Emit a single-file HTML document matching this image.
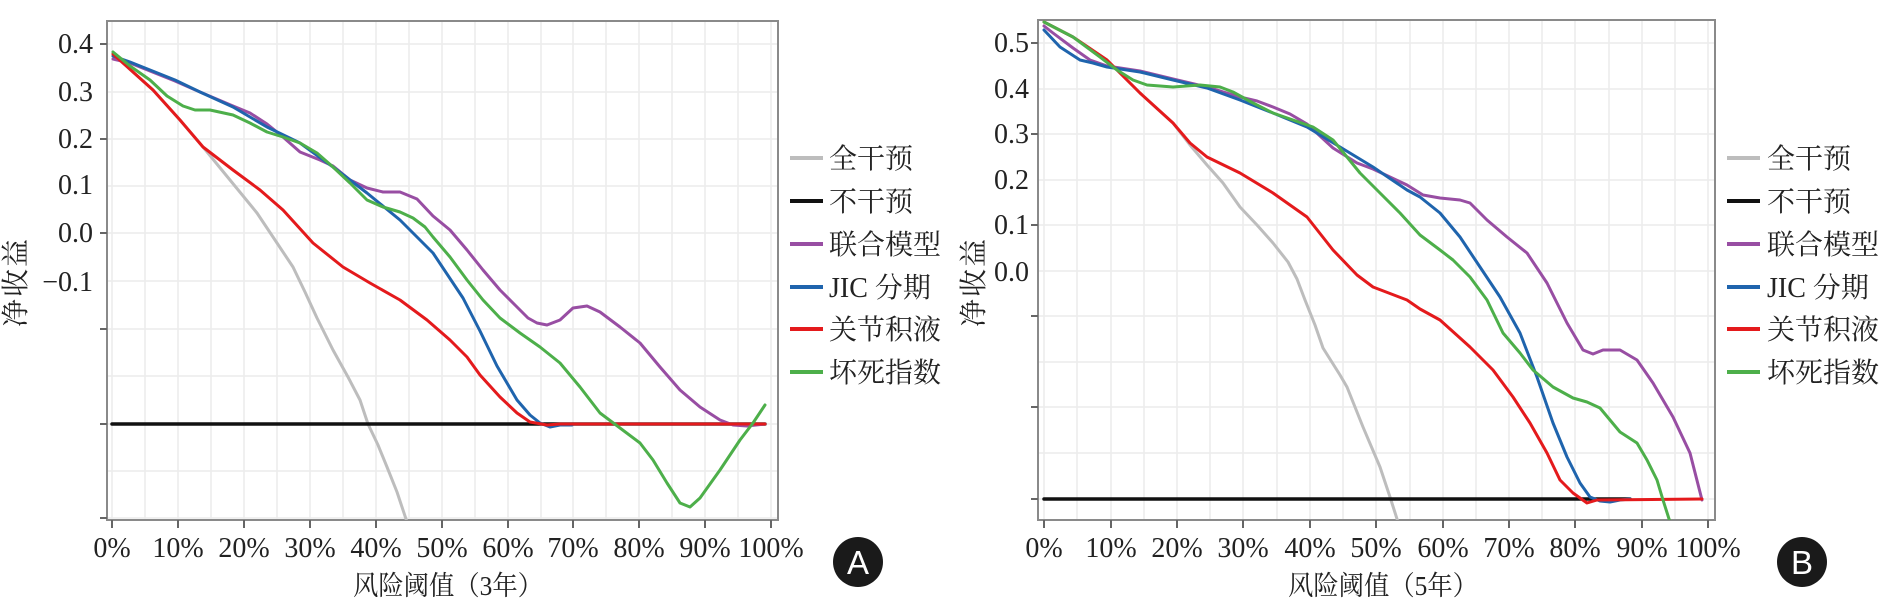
<!DOCTYPE html>
<html><head><meta charset="utf-8">
<style>
html,body{margin:0;padding:0;background:#fff;}
svg{display:block;}
text{font-family:"Liberation Serif","Noto Serif CJK SC","Noto Sans CJK SC",serif;fill:#222;}
</style></head>
<body>
<svg width="1887" height="602" viewBox="0 0 1887 602" xmlns="http://www.w3.org/2000/svg">
<defs>
<clipPath id="ca"><rect x="107" y="21" width="671" height="499"/></clipPath>
<clipPath id="cb"><rect x="1038" y="20" width="677" height="500"/></clipPath>
</defs>

<!-- ================= PANEL A ================= -->
<g stroke="#ececec" stroke-width="1.5" fill="none">
<path d="M107 44H778M107 92H778M107 139H778M107 186H778M107 233H778M107 281H778M107 329H778M107 376H778M107 424H778M107 471H778M107 518H778"/>
<path d="M112 21V520M145 21V520M178 21V520M211 21V520M244 21V520M277 21V520M310 21V520M343 21V520M376 21V520M409 21V520M442 21V520M475 21V520M508 21V520M541 21V520M573 21V520M606 21V520M639 21V520M672 21V520M705 21V520M738 21V520M771 21V520"/>
</g>
<rect x="107" y="21" width="671" height="499" fill="none" stroke="#8a8a8a" stroke-width="2"/>
<g stroke="#666" stroke-width="2">
<path d="M100 44H107M100 139H107M100 233H107M100 329H107M100 424H107M100 518H107"/>
<path d="M112 520V528M178 520V528M244 520V528M310 520V528M376 520V528M442 520V528M508 520V528M573 520V528M639 520V528M705 520V528M771 520V528"/>
</g>
<g font-size="28" text-anchor="end">
<text x="93" y="53">0.4</text>
<text x="93" y="101">0.3</text>
<text x="93" y="148">0.2</text>
<text x="93" y="194">0.1</text>
<text x="93" y="242">0.0</text>
<text x="93" y="291">−0.1</text>
</g>
<g font-size="28" text-anchor="middle">
<text x="112" y="557">0%</text>
<text x="178" y="557">10%</text>
<text x="244" y="557">20%</text>
<text x="310" y="557">30%</text>
<text x="376" y="557">40%</text>
<text x="442" y="557">50%</text>
<text x="508" y="557">60%</text>
<text x="573" y="557">70%</text>
<text x="639" y="557">80%</text>
<text x="705" y="557">90%</text>
<text x="771" y="557">100%</text>
</g>
<text x="353" y="595" font-size="27" textLength="190" lengthAdjust="spacingAndGlyphs">风险阈值（3年）</text>
<text transform="translate(25,282) rotate(-90)" font-size="28" text-anchor="middle" letter-spacing="2">净收益</text>

<g clip-path="url(#ca)" fill="none" stroke-width="3" stroke-linejoin="round" stroke-linecap="round">
<polyline stroke="#bdbdbd" points="113,54 133,72 153,90 180,120 203,147 230,180 257,213 275,240 293,267 305,292 317,318 333,350 348,377 360,400 368,424 378,445 387,467 397,492 407,522"/>
<polyline stroke="#111" stroke-width="3.5" points="112,424 765,424"/>
<polyline stroke="#984ea3" points="113,59 130,63 150,71 175,81 200,92 233,106 250,113 267,124 283,137 300,152 320,160 333,166 350,180 367,188 383,192 400,192 417,199 433,216 450,230 467,250 483,270 500,290 515,305 528,318 537,323 547,325 560,320 573,308 587,306 600,312 620,327 640,343 660,367 680,390 700,407 720,420 733,425 747,426 765,424"/>
<polyline stroke="#1f64ad" points="113,56 130,62 150,70 175,80 200,92 233,107 267,127 300,143 333,167 367,193 400,220 433,253 463,298 480,331 497,366 517,400 530,415 540,423 550,427 560,425 572,425"/>
<polyline stroke="#e41a1c" points="113,54 133,72 153,90 180,120 203,147 233,170 260,190 283,210 313,243 343,267 370,283 400,300 427,320 450,340 467,357 480,375 500,397 517,413 530,422 547,425 560,424 765,424"/>
<polyline stroke="#4daf4a" points="113,52 130,66 150,80 167,96 183,106 195,110 210,110 233,115 250,123 267,132 283,137 300,143 317,153 333,167 350,183 367,200 383,207 400,212 413,218 425,227 433,237 450,257 467,280 483,300 500,318 520,333 540,347 560,363 580,387 600,413 620,428 640,443 653,460 667,483 680,503 690,507 700,498 720,470 740,440 753,423 765,405"/>
</g>

<!-- Legend A -->
<g stroke-width="4">
<line x1="790" y1="158" x2="823" y2="158" stroke="#bdbdbd"/>
<line x1="790" y1="201" x2="823" y2="201" stroke="#111"/>
<line x1="790" y1="244" x2="823" y2="244" stroke="#984ea3"/>
<line x1="790" y1="287" x2="823" y2="287" stroke="#1f64ad"/>
<line x1="790" y1="329" x2="823" y2="329" stroke="#e41a1c"/>
<line x1="790" y1="372" x2="823" y2="372" stroke="#4daf4a"/>
</g>
<g font-size="28">
<text x="829" y="168">全干预</text>
<text x="829" y="211">不干预</text>
<text x="829" y="254">联合模型</text>
<text x="829" y="297">JIC 分期</text>
<text x="829" y="339">关节积液</text>
<text x="829" y="382">坏死指数</text>
</g>

<circle cx="858" cy="562" r="25" fill="#1a1a1a"/>
<text x="858" y="574" font-size="33" text-anchor="middle" style="font-family:'Liberation Sans',sans-serif;fill:#fff">A</text>

<!-- ================= PANEL B ================= -->
<g stroke="#ececec" stroke-width="1.5" fill="none">
<path d="M1038 43H1715M1038 89H1715M1038 134H1715M1038 180H1715M1038 225H1715M1038 271H1715M1038 316H1715M1038 362H1715M1038 407H1715M1038 453H1715M1038 499H1715"/>
<path d="M1044 20V520M1077 20V520M1111 20V520M1144 20V520M1177 20V520M1210 20V520M1243 20V520M1277 20V520M1310 20V520M1343 20V520M1376 20V520M1410 20V520M1443 20V520M1476 20V520M1509 20V520M1542 20V520M1575 20V520M1609 20V520M1642 20V520M1675 20V520M1708 20V520"/>
</g>
<rect x="1038" y="20" width="677" height="500" fill="none" stroke="#8a8a8a" stroke-width="2"/>
<g stroke="#666" stroke-width="2">
<path d="M1031 43H1038M1031 134H1038M1031 225H1038M1031 316H1038M1031 407H1038M1031 499H1038"/>
<path d="M1044 520V528M1111 520V528M1177 520V528M1243 520V528M1310 520V528M1376 520V528M1443 520V528M1509 520V528M1575 520V528M1642 520V528M1708 520V528"/>
</g>
<g font-size="28" text-anchor="end">
<text x="1029" y="52">0.5</text>
<text x="1029" y="98">0.4</text>
<text x="1029" y="143">0.3</text>
<text x="1029" y="189">0.2</text>
<text x="1029" y="234">0.1</text>
<text x="1029" y="281">0.0</text>
</g>
<g font-size="28" text-anchor="middle">
<text x="1044" y="557">0%</text>
<text x="1111" y="557">10%</text>
<text x="1177" y="557">20%</text>
<text x="1243" y="557">30%</text>
<text x="1310" y="557">40%</text>
<text x="1376" y="557">50%</text>
<text x="1443" y="557">60%</text>
<text x="1509" y="557">70%</text>
<text x="1575" y="557">80%</text>
<text x="1642" y="557">90%</text>
<text x="1708" y="557">100%</text>
</g>
<text x="1288" y="595" font-size="27" textLength="190" lengthAdjust="spacingAndGlyphs">风险阈值（5年）</text>
<text transform="translate(983,282) rotate(-90)" font-size="28" text-anchor="middle" letter-spacing="2">净收益</text>

<g clip-path="url(#cb)" fill="none" stroke-width="3" stroke-linejoin="round" stroke-linecap="round">
<polyline stroke="#bdbdbd" points="1044,22 1073,37 1107,60 1140,93 1173,123 1190,145 1207,165 1223,183 1240,207 1257,225 1273,243 1288,262 1297,279 1305,300 1315,325 1323,348 1340,375 1347,387 1363,427 1380,467 1390,497 1398,522"/>
<polyline stroke="#111" stroke-width="3.5" points="1044,499 1630,499"/>
<polyline stroke="#984ea3" points="1044,26 1053,33 1073,48 1090,60 1107,66 1140,71 1173,79 1207,87 1240,97 1257,101 1273,107 1290,114 1307,124 1333,148 1357,163 1373,169 1407,185 1423,195 1440,198 1460,200 1470,203 1487,220 1507,237 1527,253 1547,283 1567,323 1583,350 1593,354 1603,350 1620,350 1637,360 1653,383 1673,417 1690,453 1702,500"/>
<polyline stroke="#1f64ad" points="1044,30 1060,47 1080,60 1093,63 1107,67 1140,72 1173,80 1207,88 1240,100 1273,113 1307,127 1340,147 1373,167 1407,190 1420,197 1440,213 1460,237 1480,267 1500,297 1520,333 1537,377 1553,423 1567,457 1580,483 1590,497 1600,501 1610,502 1620,500 1630,499"/>
<polyline stroke="#e41a1c" points="1044,22 1073,37 1107,60 1140,93 1173,123 1190,143 1207,157 1240,173 1273,193 1307,217 1333,250 1357,275 1373,287 1407,300 1420,309 1440,320 1470,347 1493,370 1513,397 1530,423 1547,453 1560,480 1573,493 1587,503 1597,500 1702,499"/>
<polyline stroke="#4daf4a" points="1044,22 1073,37 1100,57 1117,70 1133,80 1147,85 1173,87 1200,85 1220,87 1233,92 1253,103 1273,113 1293,120 1313,127 1333,140 1347,157 1360,173 1380,193 1400,213 1420,235 1440,250 1453,260 1470,277 1487,300 1503,333 1520,353 1533,370 1553,387 1573,398 1587,402 1600,408 1610,420 1620,432 1637,443 1647,460 1657,480 1663,500 1670,522"/>
</g>

<!-- Legend B -->
<g stroke-width="4">
<line x1="1727" y1="158" x2="1760" y2="158" stroke="#bdbdbd"/>
<line x1="1727" y1="201" x2="1760" y2="201" stroke="#111"/>
<line x1="1727" y1="244" x2="1760" y2="244" stroke="#984ea3"/>
<line x1="1727" y1="287" x2="1760" y2="287" stroke="#1f64ad"/>
<line x1="1727" y1="329" x2="1760" y2="329" stroke="#e41a1c"/>
<line x1="1727" y1="372" x2="1760" y2="372" stroke="#4daf4a"/>
</g>
<g font-size="28">
<text x="1767" y="168">全干预</text>
<text x="1767" y="211">不干预</text>
<text x="1767" y="254">联合模型</text>
<text x="1767" y="297">JIC 分期</text>
<text x="1767" y="339">关节积液</text>
<text x="1767" y="382">坏死指数</text>
</g>

<circle cx="1802" cy="562" r="25" fill="#1a1a1a"/>
<text x="1802" y="574" font-size="33" text-anchor="middle" style="font-family:'Liberation Sans',sans-serif;fill:#fff">B</text>
</svg>
</body></html>
